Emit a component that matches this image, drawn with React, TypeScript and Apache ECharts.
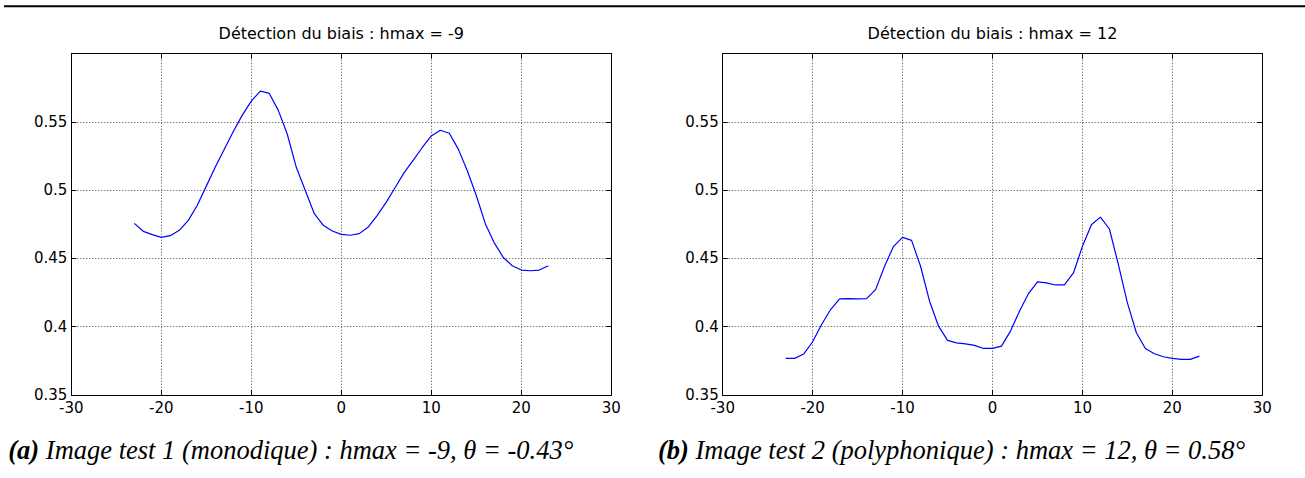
import React, { useEffect, useRef } from "react";
import * as echarts from "echarts";

// x positions (angle offsets)
const xValues: number[] = [
  -23, -22, -21, -20, -19, -18, -17, -16, -15, -14, -13, -12, -11, -10, -9, -8,
  -7, -6, -5, -4, -3, -2, -1, 0, 1, 2, 3, 4, 5, 6, 7, 8, 9, 10, 11, 12, 13, 14,
  15, 16, 17, 18, 19, 20, 21, 22, 23,
];

// (a) Image test 1 (monodique)
const seriesA: number[] = [
  0.4757, 0.4699, 0.4675, 0.4655, 0.4667, 0.4706, 0.4779, 0.489, 0.503, 0.517,
  0.530, 0.543, 0.555, 0.5653, 0.5726, 0.5709, 0.5585, 0.541, 0.5168, 0.4998,
  0.4828, 0.4743, 0.4701, 0.4677, 0.467, 0.4682, 0.4731, 0.4816, 0.4913, 0.5022,
  0.5131, 0.5221, 0.5313, 0.5398, 0.5439, 0.5417, 0.5301, 0.5143, 0.4961,
  0.4755, 0.4614, 0.4507, 0.4447, 0.4415, 0.441, 0.4415, 0.4447,
];

// (b) Image test 2 (polyphonique)
const seriesB: number[] = [
  0.3768, 0.3768, 0.38, 0.389, 0.4016, 0.4126, 0.4204, 0.4206, 0.4204, 0.4206,
  0.4272, 0.4443, 0.4589, 0.4655, 0.4633, 0.4443, 0.4187, 0.4004, 0.39, 0.3882,
  0.3875, 0.3863, 0.3841, 0.3841, 0.3858, 0.3968, 0.4114, 0.4243, 0.4328,
  0.4321, 0.4306, 0.4306, 0.4394, 0.4589, 0.4747, 0.4803, 0.4716, 0.4455,
  0.4175, 0.3956, 0.3841, 0.3802, 0.378, 0.3768, 0.3761, 0.3761, 0.3785,
];

const plotTitles: string[] = [
  "Détection du biais : hmax = -9",
  "Détection du biais : hmax = 12",
];

const captionLabels: string[] = ["(a)", "(b)"];
const captionTexts: string[] = [
  " Image test 1 (monodique) : hmax = -9, θ = -0.43°",
  " Image test 2 (polyphonique) : hmax = 12, θ = 0.58°",
];

const X_MIN = -30;
const X_MAX = 30;
const X_STEP = 10;
const Y_MIN = 0.35;
const Y_MAX = 0.6;
const Y_STEP = 0.05;

const W = 1305;
const H = 478;

const grids = [
  { left: 71.3, right: W - 611.3, top: 53.7, bottom: H - 395 },
  { left: 722.7, right: W - 1262.3, top: 53.7, bottom: H - 395 },
];

const SANS = "DejaVu Sans";
const SERIF = "Liberation Serif";

export default function App() {
  const ref = useRef<HTMLDivElement>(null);

  useEffect(() => {
    if (!ref.current) return;
    const chart = echarts.init(ref.current, undefined, { renderer: "svg" });

    const fmtY = (v: number) =>
      v > Y_MAX - Y_STEP / 2 ? "" : String(Math.round(v * 100) / 100);

    const xAxes: any[] = [];
    const yAxes: any[] = [];
    grids.forEach((_, gi) => {
      // bottom axis with labels and grid
      xAxes.push({
        type: "value",
        gridIndex: gi,
        position: "bottom",
        min: X_MIN,
        max: X_MAX,
        interval: X_STEP,
        axisLine: { show: true, onZero: false, lineStyle: { color: "#000", width: 1 } },
        axisTick: { show: true, inside: true, length: 5, lineStyle: { color: "#000" } },
        axisLabel: {
          show: true,
          color: "#000",
          fontFamily: SANS,
          fontSize: 15,
          margin: 5,
        },
        splitLine: {
          show: true,
          lineStyle: { color: "#444", width: 1, type: [1, 2] },
        },
      });
      // top axis (box)
      xAxes.push({
        type: "value",
        gridIndex: gi,
        position: "top",
        min: X_MIN,
        max: X_MAX,
        interval: X_STEP,
        axisLine: { show: true, onZero: false, lineStyle: { color: "#000", width: 1 } },
        axisTick: { show: true, inside: true, length: 5, lineStyle: { color: "#000" } },
        axisLabel: { show: false },
        splitLine: { show: false },
      });
      yAxes.push({
        type: "value",
        gridIndex: gi,
        position: "left",
        min: Y_MIN,
        max: Y_MAX,
        interval: Y_STEP,
        axisLine: { show: true, onZero: false, lineStyle: { color: "#000", width: 1 } },
        axisTick: { show: true, inside: true, length: 5, lineStyle: { color: "#000" } },
        axisLabel: {
          show: true,
          color: "#000",
          fontFamily: SANS,
          fontSize: 15,
          margin: 4,
          formatter: fmtY,
        },
        splitLine: {
          show: true,
          lineStyle: { color: "#444", width: 1, type: [1, 2] },
        },
      });
      yAxes.push({
        type: "value",
        gridIndex: gi,
        position: "right",
        min: Y_MIN,
        max: Y_MAX,
        interval: Y_STEP,
        axisLine: { show: true, onZero: false, lineStyle: { color: "#000", width: 1 } },
        axisTick: { show: true, inside: true, length: 5, lineStyle: { color: "#000" } },
        axisLabel: { show: false },
        splitLine: { show: false },
      });
    });

    const makeData = (ys: number[]) => xValues.map((x, i) => [x, ys[i]]);

    const graphics: any[] = [
      {
        type: "line",
        shape: { x1: 4, y1: 6.3, x2: W, y2: 6.3 },
        style: { stroke: "#000", lineWidth: 2 },
        silent: true,
      },
    ];
    grids.forEach((g, gi) => {
      const cx = (g.left + (W - g.right)) / 2;
      graphics.push({
        type: "text",
        x: cx,
        y: 33,
        style: {
          text: plotTitles[gi],
          font: `16px "${SANS}"`,
          fill: "#000",
          textAlign: "center",
          textVerticalAlign: "middle",
        },
        silent: true,
      });
    });
    const capX = [8.3, 658];
    captionTexts.forEach((t, i) => {
      graphics.push({
        type: "text",
        x: capX[i],
        y: 449.5,
        style: {
          text: `{b|${captionLabels[i]}}{n|${t}}`,
          fill: "#000",
          textAlign: "left",
          textVerticalAlign: "middle",
          rich: {
            b: {
              fontFamily: SERIF,
              fontSize: 26.5,
              fontStyle: "italic",
              fontWeight: "bold",
              fill: "#000",
            },
            n: {
              fontFamily: SERIF,
              fontSize: 26.5,
              fontStyle: "italic",
              fontWeight: "normal",
              fill: "#000",
            },
          },
        },
        silent: true,
      });
    });

    chart.setOption({
      animation: false,
      backgroundColor: "#fff",
      grid: grids.map((g) => ({ ...g, containLabel: false, outerBoundsMode: "none" })),
      xAxis: xAxes,
      yAxis: yAxes,
      series: [
        {
          type: "line",
          xAxisIndex: 0,
          yAxisIndex: 0,
          data: makeData(seriesA),
          showSymbol: false,
          symbol: "none",
          lineStyle: { color: "#0000ff", width: 1.2 },
          silent: true,
        },
        {
          type: "line",
          xAxisIndex: 2,
          yAxisIndex: 2,
          data: makeData(seriesB),
          showSymbol: false,
          symbol: "none",
          lineStyle: { color: "#0000ff", width: 1.2 },
          silent: true,
        },
      ],
      graphic: graphics,
    });

    return () => {
      chart.dispose();
    };
  }, []);

  return (
    <div
      ref={ref}
      style={{ position: "fixed", left: 0, top: 0, width: W, height: H, background: "#fff" }}
    />
  );
}
